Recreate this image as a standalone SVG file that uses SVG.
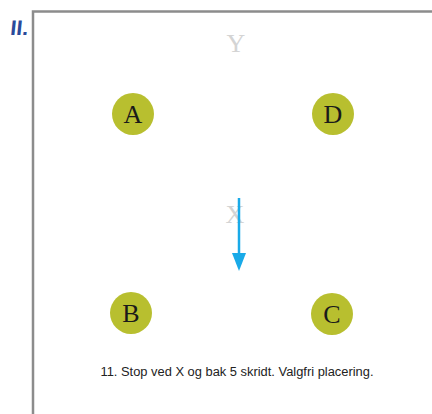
<svg xmlns="http://www.w3.org/2000/svg" width="432" height="414" viewBox="0 0 432 414">
<defs>
<style>
.node circle{fill:#b8bf2f;}
.node text{font-family:"Liberation Serif","DejaVu Serif",serif;font-size:26px;fill:#1a1a1a;text-anchor:middle;}
.faint{font-family:"Liberation Serif","DejaVu Serif",serif;font-size:26px;fill:#d4d4d4;text-anchor:middle;}
</style>
</defs>
<rect width="432" height="414" fill="#ffffff"/>
<path d="M33,414 V11.5 H432" fill="none" stroke="#8c8c8c" stroke-width="2.5"/>
<text x="10" y="35" font-family="Liberation Sans,sans-serif" font-size="21" font-weight="bold" fill="#2b4a9a" textLength="18" lengthAdjust="spacingAndGlyphs" transform="skewX(-6) translate(3.5,0)">II.</text>
<text class="faint" x="236" y="52">Y</text>
<text class="faint" x="235" y="223">X</text>
<g id="node-A" class="node"><circle cx="133" cy="114" r="21"/><text x="133" y="123">A</text></g>
<g id="node-D" class="node"><circle cx="333" cy="114" r="21"/><text x="333" y="123">D</text></g>
<g id="node-B" class="node"><circle cx="131" cy="313" r="21"/><text x="131" y="322">B</text></g>
<g id="node-C" class="node"><circle cx="332" cy="314" r="21"/><text x="332" y="323">C</text></g>
<g id="connectors">
<line x1="239" y1="198" x2="239" y2="256" stroke="#19aae8" stroke-width="2.5"/>
<path d="M232,253 L246,253 L239,271 Z" fill="#19aae8"/>
</g>
<text x="237" y="376" font-family="Liberation Sans,sans-serif" font-size="12" fill="#222" text-anchor="middle" textLength="273" lengthAdjust="spacingAndGlyphs">11. Stop ved X og bak 5 skridt. Valgfri placering.</text>
</svg>
